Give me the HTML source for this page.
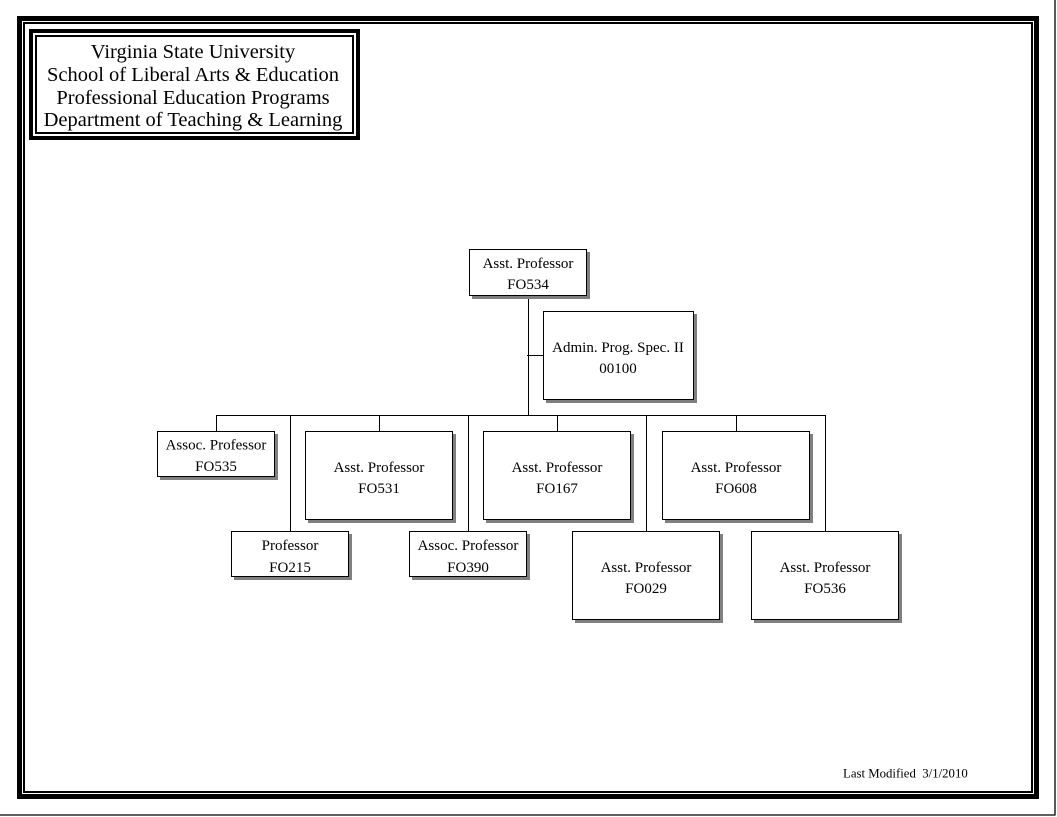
<!DOCTYPE html>
<html>
<head>
<meta charset="utf-8">
<style>
html,body{margin:0;padding:0;background:#fff;}
svg{display:block;}
text{font-family:"Liberation Serif","Times New Roman",serif;fill:#000;}
</style>
</head>
<body>
<svg width="1057" height="817" viewBox="0 0 1057 817" xmlns="http://www.w3.org/2000/svg">
  <rect x="0" y="0" width="1057" height="817" fill="#fff"/>
  <!-- page edge lines -->
  <line x1="1055" y1="0" x2="1055" y2="815.5" stroke="#000" stroke-width="1.3"/>
  <line x1="0" y1="815" x2="1055.5" y2="815" stroke="#000" stroke-width="1.3"/>

  <!-- outer frames -->
  <rect x="19.5" y="18.5" width="1017" height="778" fill="none" stroke="#000" stroke-width="5"/>
  <rect x="24" y="23" width="1008" height="769" fill="none" stroke="#000" stroke-width="2"/>

  <!-- title box -->
  <rect x="31" y="31" width="327" height="107" fill="none" stroke="#000" stroke-width="4"/>
  <rect x="36" y="36" width="317" height="97" fill="none" stroke="#000" stroke-width="2"/>
  <g font-size="20.5" text-anchor="middle">
    <text x="193" y="58">Virginia State University</text>
    <text x="193" y="81">School of Liberal Arts &amp; Education</text>
    <text x="193" y="104">Professional Education Programs</text>
    <text x="193" y="126">Department of Teaching &amp; Learning</text>
  </g>

  <!-- connectors -->
  <g stroke="#000" stroke-width="1" shape-rendering="crispEdges">
    <line x1="528.5" y1="296" x2="528.5" y2="416"/>
    <line x1="527" y1="355.5" x2="543" y2="355.5"/>
    <line x1="216" y1="415.5" x2="826" y2="415.5"/>
    <line x1="216.5" y1="415" x2="216.5" y2="431"/>
    <line x1="290.5" y1="415" x2="290.5" y2="531"/>
    <line x1="379.5" y1="415" x2="379.5" y2="431"/>
    <line x1="468.5" y1="415" x2="468.5" y2="531"/>
    <line x1="557.5" y1="415" x2="557.5" y2="431"/>
    <line x1="646.5" y1="415" x2="646.5" y2="531"/>
    <line x1="736.5" y1="415" x2="736.5" y2="431"/>
    <line x1="825.5" y1="415" x2="825.5" y2="531"/>
  </g>

  <!-- shadows -->
  <g fill="#808080" shape-rendering="crispEdges">
    <rect x="472" y="252" width="118" height="47"/>
    <rect x="546" y="314" width="151" height="89"/>
    <rect x="160" y="434" width="118" height="46"/>
    <rect x="234" y="534" width="118" height="46"/>
    <rect x="308" y="434" width="148" height="89"/>
    <rect x="412" y="534" width="118" height="46"/>
    <rect x="486" y="434" width="148" height="89"/>
    <rect x="575" y="534" width="148" height="89"/>
    <rect x="665" y="434" width="148" height="89"/>
    <rect x="754" y="534" width="148" height="89"/>
  </g>

  <!-- boxes -->
  <g fill="#fff" stroke="#000" stroke-width="1" shape-rendering="crispEdges">
    <rect x="469.5" y="249.5" width="117" height="46"/>
    <rect x="543.5" y="311.5" width="150" height="88"/>
    <rect x="157.5" y="431.5" width="117" height="45"/>
    <rect x="231.5" y="531.5" width="117" height="45"/>
    <rect x="305.5" y="431.5" width="147" height="88"/>
    <rect x="409.5" y="531.5" width="117" height="45"/>
    <rect x="483.5" y="431.5" width="147" height="88"/>
    <rect x="572.5" y="531.5" width="147" height="88"/>
    <rect x="662.5" y="431.5" width="147" height="88"/>
    <rect x="751.5" y="531.5" width="147" height="88"/>
  </g>

  <!-- labels -->
  <g font-size="15" text-anchor="middle">
    <text x="528" y="268">Asst. Professor</text>
    <text x="528" y="289">FO534</text>

    <text x="618" y="352">Admin. Prog. Spec. II</text>
    <text x="618" y="373">00100</text>

    <text x="216" y="449.5">Assoc. Professor</text>
    <text x="216" y="471">FO535</text>

    <text x="290" y="550">Professor</text>
    <text x="290" y="572">FO215</text>

    <text x="379" y="472">Asst. Professor</text>
    <text x="379" y="493">FO531</text>

    <text x="468" y="550">Assoc. Professor</text>
    <text x="468" y="572">FO390</text>

    <text x="557" y="472">Asst. Professor</text>
    <text x="557" y="493">FO167</text>

    <text x="646" y="572">Asst. Professor</text>
    <text x="646" y="593">FO029</text>

    <text x="736" y="472">Asst. Professor</text>
    <text x="736" y="493">FO608</text>

    <text x="825" y="572">Asst. Professor</text>
    <text x="825" y="593">FO536</text>
  </g>

  <text x="843" y="777.5" font-size="12.8" xml:space="preserve">Last Modified  3/1/2010</text>
</svg>
</body>
</html>
